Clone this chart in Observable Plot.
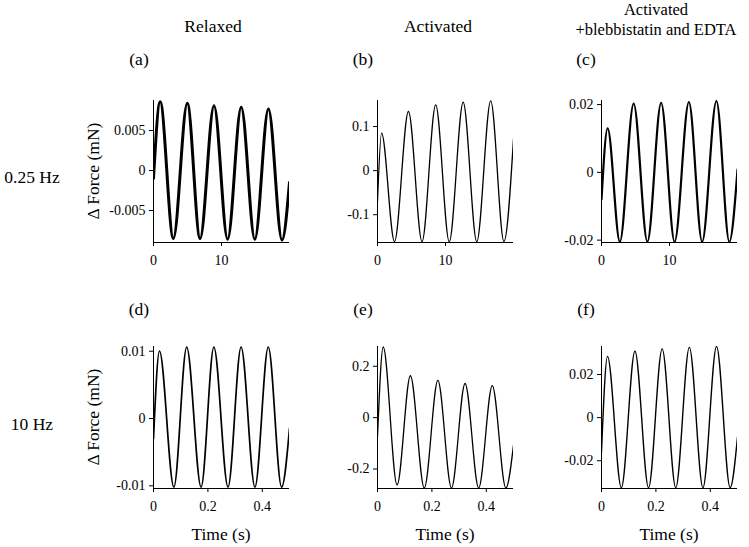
<!DOCTYPE html>
<html><head><meta charset="utf-8">
<script src="https://cdn.jsdelivr.net/npm/d3@7"></script>
<script src="https://cdn.jsdelivr.net/npm/@observablehq/plot@0.6"></script>
<style>
body{margin:0;background:#fff}
#root{position:relative;width:749px;height:547px;font-family:'Liberation Serif','Times New Roman',Times,serif;color:#000;overflow:hidden}
#root text{font-family:'Liberation Serif','Times New Roman',Times,serif}
</style>
</head><body><div id="root"></div>
<script>
// ---- text ----
const columnTitles = [["Relaxed"], ["Activated"], ["Activated", "+blebbistatin and EDTA"]];
const rowLabels = ["0.25 Hz", "10 Hz"];
const panelLetters = ["(a)", "(b)", "(c)", "(d)", "(e)", "(f)"];
const yLabel = "\u0394 Force (mN)";
const xLabel = "Time (s)";

// ---- axes ----
const xDomainSlow = [0, 20];
const xDomainFast = [0, 0.5];
const xTicksSlow = [0, 10];
const xTicksFast = [0, 0.2, 0.4];

// ---- (a) 0.25 Hz relaxed: extrema of the trace ----
const tA = [0, 0.98, 2.92, 4.97, 6.85, 8.9, 10.9, 12.9, 14.9, 16.9, 18.9, 20];
const fA = [-0.001, 0.0086, -0.0085, 0.0084, -0.0085, 0.0081, -0.0086, 0.0079, -0.0086, 0.0077, -0.0087, -0.0015];
const yDomainA = [-0.009, 0.00875];
const yTicksA = [-0.005, 0, 0.005];

// ---- (b) 0.25 Hz activated ----
const tB = [0, 0.6, 2.5, 4.55, 6.55, 8.56, 10.55, 12.6, 14.6, 16.65, 18.6, 20];
const fB = [-0.07, 0.085, -0.161, 0.134, -0.161, 0.149, -0.161, 0.155, -0.161, 0.158, -0.161, 0.072];
const yDomainB = [-0.163, 0.159];
const yTicksB = [-0.1, 0, 0.1];

// ---- (c) 0.25 Hz activated + blebbistatin and EDTA ----
const tC = [0, 0.9, 2.7, 4.73, 6.75, 8.77, 10.75, 12.85, 14.8, 16.9, 18.8, 20];
const fC = [-0.008, 0.013, -0.0205, 0.0203, -0.0205, 0.0205, -0.0205, 0.0207, -0.0205, 0.021, -0.0205, 0.0008];
const yDomainC = [-0.0207, 0.0212];
const yTicksC = [-0.02, 0, 0.02];

// ---- (d) 10 Hz relaxed ----
const tD = [0, 0.022, 0.075, 0.122, 0.175, 0.222, 0.274, 0.322, 0.373, 0.422, 0.471, 0.5];
const fD = [-0.003, 0.0100, -0.0102, 0.0106, -0.0102, 0.0106, -0.0102, 0.0106, -0.0102, 0.0106, -0.0102, -0.0015];
const yDomainD = [-0.0104, 0.0107];
const yTicksD = [-0.01, 0, 0.01];

// ---- (e) 10 Hz activated ----
const tE = [0, 0.021, 0.072, 0.121, 0.172, 0.222, 0.272, 0.322, 0.372, 0.422, 0.472, 0.5];
const fE = [-0.075, 0.275, -0.262, 0.163, -0.274, 0.145, -0.274, 0.133, -0.274, 0.125, -0.274, -0.107];
const yDomainE = [-0.276, 0.277];
const yTicksE = [-0.2, 0, 0.2];

// ---- (f) 10 Hz activated + blebbistatin and EDTA ----
const tF = [0, 0.022, 0.073, 0.123, 0.173, 0.223, 0.273, 0.323, 0.373, 0.423, 0.473, 0.5];
const fF = [-0.016, 0.0284, -0.0325, 0.0308, -0.0325, 0.0319, -0.0325, 0.0326, -0.0325, 0.033, -0.0325, -0.009];
const yDomainF = [-0.0329, 0.033];
const yTicksF = [-0.02, 0, 0.02];

const panelT = [tA, tB, tC, tD, tE, tF];
const panelF = [fA, fB, fC, fD, fE, fF];
const panelYDomain = [yDomainA, yDomainB, yDomainC, yDomainD, yDomainE, yDomainF];
const panelYTicks = [yTicksA, yTicksB, yTicksC, yTicksD, yTicksE, yTicksF];
const panelStroke = [3, 1.3, 2.2, 1.7, 1.3, 1.4];

// ---- layout ----
const colX = [153, 377, 601];
const rowTop = [100, 346];
const innerW = 136, innerH = 142;
const ML = 60, MR = 14, MT = 8, MB = 32;
const FONT = "'Liberation Serif','Times New Roman',Times,serif";

const root = document.getElementById("root");

for (let i = 0; i < 6; i++) {
  const r = Math.floor(i / 3), c = i % 3;
  const data = panelT[i].map((t, j) => ({t, f: panelF[i][j]}));
  const xd = r === 0 ? xDomainSlow : xDomainFast;
  const xt = r === 0 ? xTicksSlow : xTicksFast;
  const yd = panelYDomain[i];
  const svg = Plot.plot({
    width: ML + innerW + MR,
    height: MT + innerH + MB,
    marginLeft: ML, marginRight: MR, marginTop: MT, marginBottom: MB,
    style: {fontFamily: FONT, fontSize: "14px", background: "transparent", color: "#000", overflow: "visible"},
    x: {domain: xd},
    y: {domain: yd},
    marks: [
      Plot.line(data, {x: "t", y: "f", curve: "monotone-x", stroke: "#000", strokeWidth: panelStroke[i], clip: true}),
      Plot.ruleX([xd[0]], {stroke: "#000"}),
      Plot.ruleY([yd[0]], {stroke: "#000"}),
      Plot.axisX({ticks: xt, tickSize: 4, tickPadding: 9, tickFormat: d => String(d), label: null}),
      Plot.axisY({ticks: panelYTicks[i], tickSize: 4, tickPadding: 4, tickFormat: d => String(d), label: null})
    ]
  });
  svg.style.position = "absolute";
  svg.style.left = (colX[c] - ML) + "px";
  svg.style.top = (rowTop[r] - MT) + "px";
  root.appendChild(svg);
}

// ---- text overlay ----
const ov = d3.select(root).append("svg")
  .attr("width", 749).attr("height", 547)
  .style("position", "absolute").style("left", "0px").style("top", "0px")
  .attr("font-family", FONT).attr("font-size", 17.5).attr("fill", "#000");

const centers = colX.map(x => x + innerW / 2);
const titleX = [213, 438, 656];
columnTitles.forEach((lines, c) => {
  lines.forEach((s, k) => {
    const y = lines.length === 1 ? 31.5 : (k === 0 ? 14.5 : 35);
    ov.append("text").attr("x", titleX[c]).attr("y", y).attr("text-anchor", "middle")
      .attr("font-size", lines.length === 1 ? 17.5 : 16.5).text(s);
  });
});
const letterX = [139, 363, 586];
panelLetters.forEach((s, i) => {
  const r = Math.floor(i / 3), c = i % 3;
  ov.append("text").attr("x", letterX[c]).attr("y", r === 0 ? 64.5 : 314.5).attr("text-anchor", "middle").text(s);
});
rowLabels.forEach((s, r) => {
  ov.append("text").attr("x", 32).attr("y", r === 0 ? 183 : 430).attr("text-anchor", "middle").text(s);
});
[rowTop[0] + innerH / 2, rowTop[1] + innerH / 2].forEach(yc => {
  ov.append("text").attr("transform", `translate(93,${yc}) rotate(-90)`).attr("dy", "0.35em")
    .attr("text-anchor", "middle").text(yLabel);
});
centers.forEach(xc => {
  ov.append("text").attr("x", xc).attr("y", 539.5).attr("text-anchor", "middle").text(xLabel);
});
</script>
</body></html>
